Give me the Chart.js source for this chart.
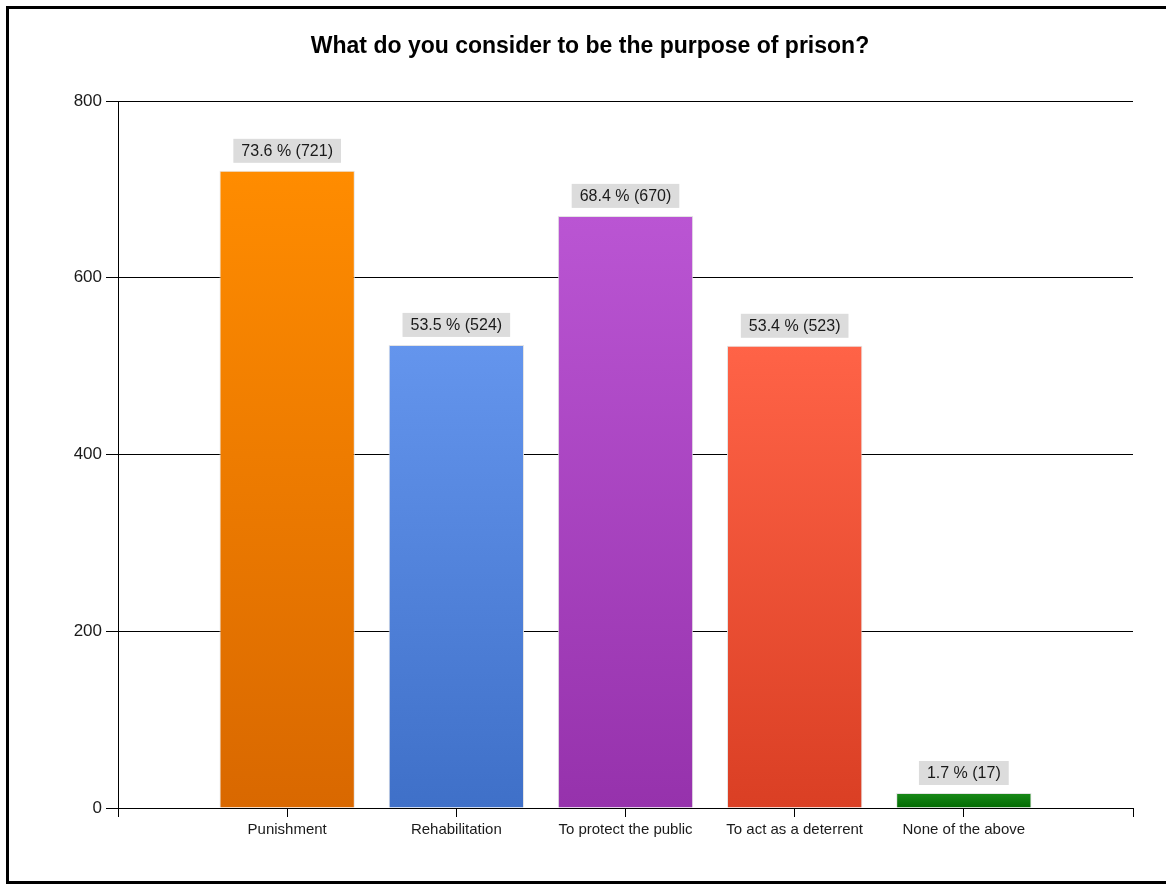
<!DOCTYPE html>
<html>
<head>
<meta charset="utf-8">
<script src="https://cdn.jsdelivr.net/npm/chart.js@4"></script>
<style>
  html, body { margin: 0; padding: 0; background: #fff; }
  #wrap { position: relative; width: 1166px; height: 884px; }
</style>
</head>
<body>
<div id="wrap"><canvas id="chart" width="1166" height="884"></canvas></div>
<script>
// data (empty slots at both ends of the axis)
const chartTitle = "What do you consider to be the purpose of prison?";
const categories = ["", "Punishment", "Rehabilitation", "To protect the public", "To act as a deterrent", "None of the above", ""];
const counts = [null, 721, 524, 670, 523, 17, null];
const percents = [null, 73.6, 53.5, 68.4, 53.4, 1.7, null];
const yTicks = [0, 200, 400, 600, 800];

const topColors = [null, "#ff8c00", "#6495ed", "#ba55d3", "#ff6347", "#1a8a1a", null];
const bottomColors = [null, "#d96800", "#3f70c8", "#9632ac", "#da3f24", "#006a00", null];

function barFill(ctx) {
  const chart = ctx.chart;
  const i = ctx.dataIndex;
  if (!chart.chartArea || counts[i] == null) return topColors[i] || "#000";
  const y = chart.scales.y;
  const top = y.getPixelForValue(counts[i]);
  const bottom = y.getPixelForValue(0);
  const g = chart.ctx.createLinearGradient(0, top, 0, bottom);
  g.addColorStop(0, topColors[i]);
  g.addColorStop(1, bottomColors[i]);
  return g;
}

// frame around the whole picture + title
const framePlugin = {
  id: "frame",
  afterDraw(chart) {
    const c = chart.ctx;
    c.save();
    c.strokeStyle = "#000";
    c.lineWidth = 3;
    c.beginPath();
    c.moveTo(1170, 7.5);
    c.lineTo(7.5, 7.5);
    c.lineTo(7.5, 882.5);
    c.lineTo(1170, 882.5);
    c.stroke();

    c.fillStyle = "#000";
    c.font = "bold 23px 'Liberation Sans', Arial, sans-serif";
    c.textAlign = "center";
    c.textBaseline = "middle";
    c.fillText(chartTitle, 590, 47);
    c.restore();
  }
};

// grey boxed value labels above each bar
const labelPlugin = {
  id: "valueLabels",
  afterDatasetsDraw(chart) {
    const c = chart.ctx;
    const meta = chart.getDatasetMeta(0);
    c.save();
    c.font = "16px 'Liberation Sans', Arial, sans-serif";
    c.textAlign = "center";
    c.textBaseline = "middle";
    meta.data.forEach((bar, i) => {
      if (counts[i] == null) return;
      const txt = percents[i].toFixed(1) + " % (" + counts[i] + ")";
      const w = c.measureText(txt).width + 16;
      const h = 24;
      const bottom = bar.y - 8;
      c.fillStyle = "#dcdcdc";
      c.fillRect(bar.x - w / 2, bottom - h, w, h);
      c.fillStyle = "#1a1a1a";
      c.fillText(txt, bar.x, bottom - h / 2 + 1);
    });
    c.restore();
  }
};

new Chart(document.getElementById("chart"), {
  type: "bar",
  data: {
    labels: categories,
    datasets: [{
      data: counts,
      backgroundColor: barFill,
      borderColor: "rgba(225,225,225,0.9)",
      borderWidth: 1,
      barPercentage: 0.8,
      categoryPercentage: 1
    }]
  },
  options: {
    responsive: false,
    animation: false,
    layout: { padding: { top: 101, right: 33, bottom: 0, left: 0 } },
    plugins: {
      legend: { display: false },
      tooltip: { enabled: false },
      title: { display: false }
    },
    scales: {
      x: {
        offset: false,
        grid: { offset: false, drawOnChartArea: false, color: "#000", tickLength: 9, tickColor: "#000" },
        border: { color: "#000", width: 1 },
        ticks: {
          color: "#1a1a1a",
          padding: 4,
          maxRotation: 0,
          autoSkip: false,
          font: { family: "'Liberation Sans', Arial, sans-serif", size: 15 }
        },
        afterFit(scale) { scale.height = 76; }
      },
      y: {
        min: 0,
        max: 800,
        afterBuildTicks(scale) { scale.ticks = yTicks.map(v => ({ value: v })); },
        grid: { color: "#000", lineWidth: 1, tickLength: 12, tickColor: "#000" },
        border: { color: "#000", width: 1 },
        ticks: {
          color: "#1a1a1a",
          padding: 4,
          font: { family: "'Liberation Sans', Arial, sans-serif", size: 17 }
        },
        afterFit(scale) { scale.width = 118; }
      }
    }
  },
  plugins: [framePlugin, labelPlugin]
});
</script>
</body>
</html>
